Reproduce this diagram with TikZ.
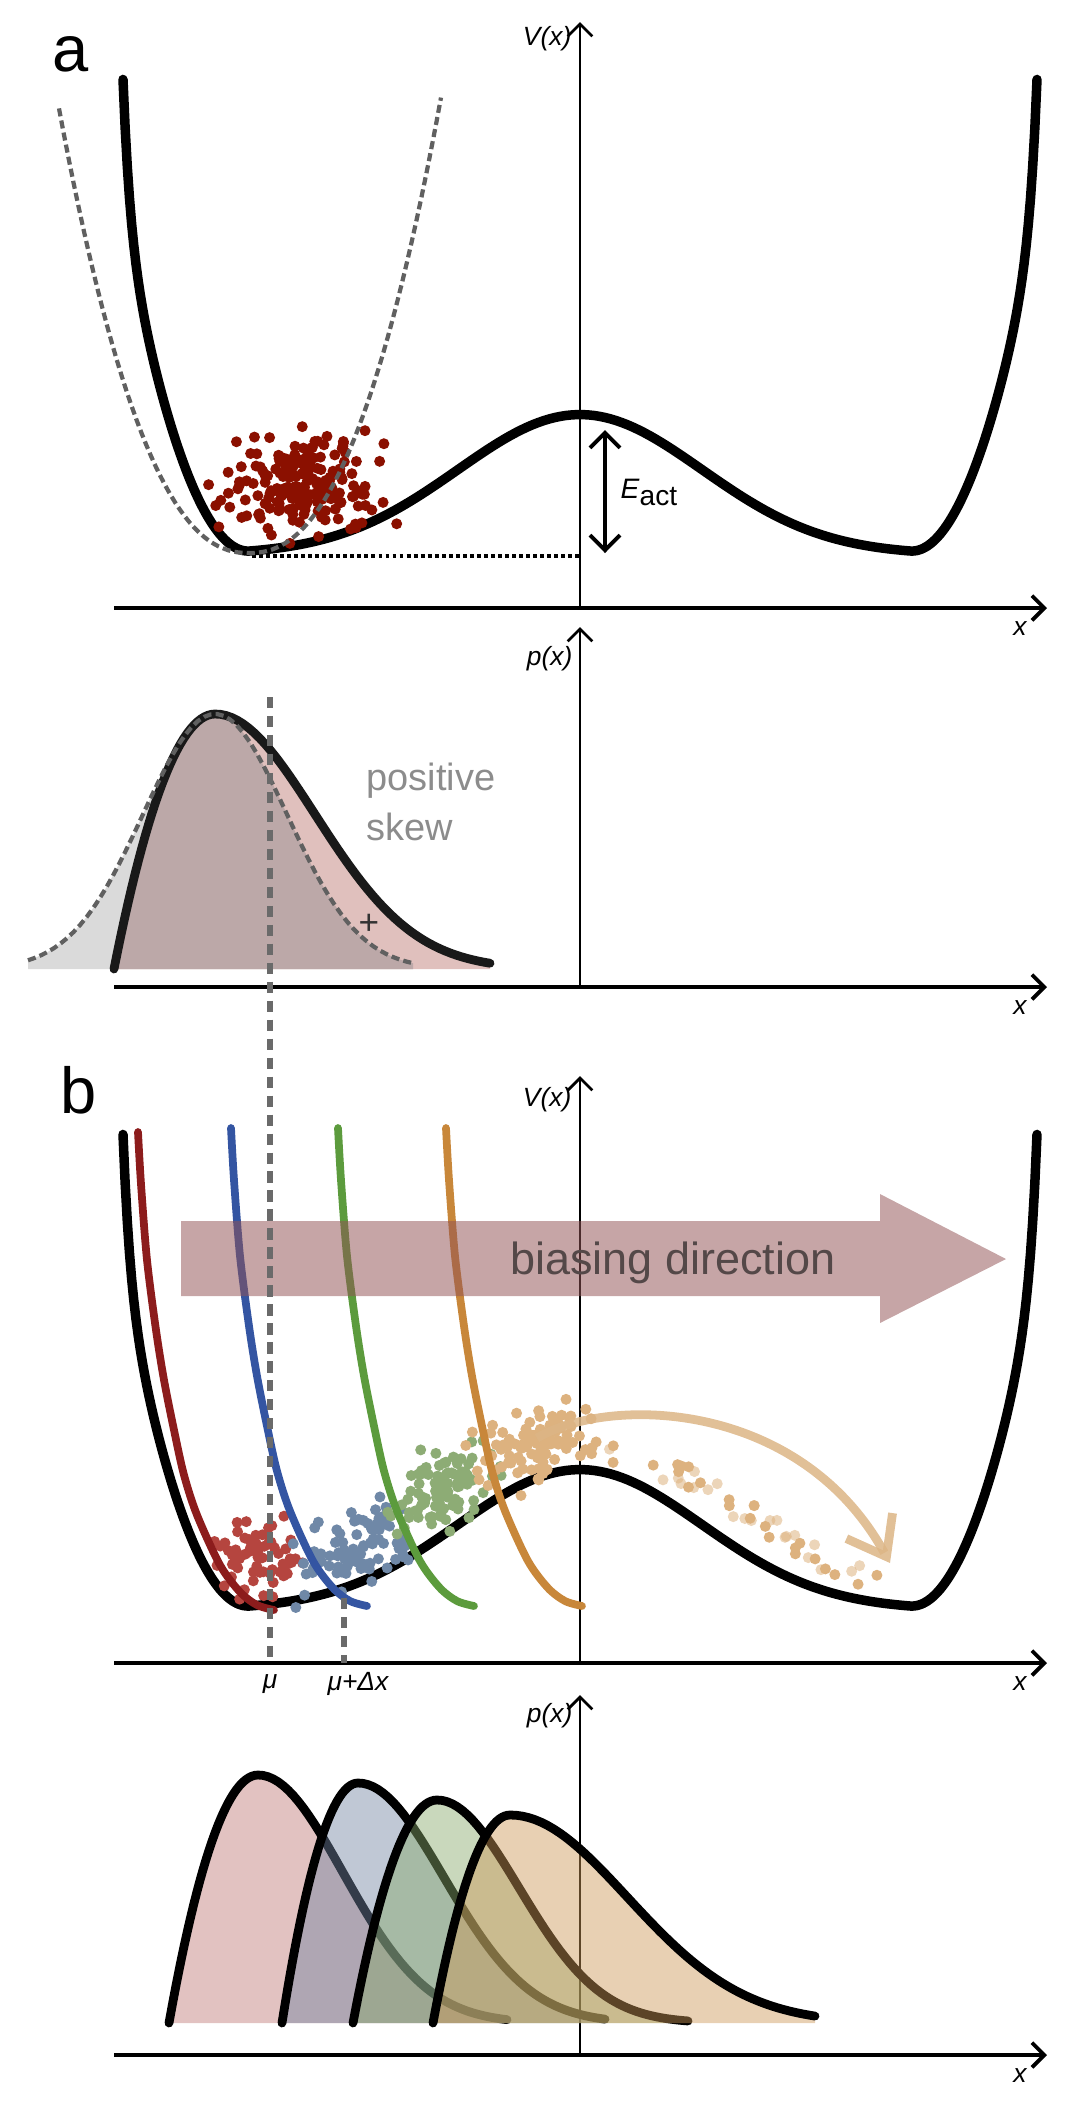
\documentclass[tikz,border=0pt]{standalone}
\usepackage{fontspec}
\setmainfont{Liberation Sans}
\usetikzlibrary{arrows.meta}

\definecolor{dotred}{HTML}{8B1000}
\definecolor{biasred}{HTML}{8C1C1C}
\definecolor{biasblue}{HTML}{3455A2}
\definecolor{biasgreen}{HTML}{5C9B3D}
\definecolor{biasorange}{HTML}{C8873A}
\definecolor{ptred}{HTML}{B5453F}
\definecolor{ptblue}{HTML}{6F88A7}
\definecolor{ptgreen}{HTML}{8DAC75}
\definecolor{pttan}{HTML}{DDB27F}
\definecolor{arctan}{HTML}{DCB585}
\definecolor{bigarrow}{RGB}{145,83,85}
\definecolor{arrowtext}{RGB}{84,72,72}
\definecolor{fillred}{RGB}{191,120,118}
\definecolor{fillblue}{RGB}{115,133,162}
\definecolor{fillgreen}{RGB}{136,169,107}
\definecolor{filltan}{RGB}{204,151,87}
\definecolor{skewpink}{RGB}{224,192,189}
\definecolor{gausgrey}{RGB}{218,218,218}
\definecolor{overlap}{RGB}{188,168,168}
\definecolor{guidegrey}{HTML}{6A6A6A}
\definecolor{harmgrey}{HTML}{606060}
\definecolor{textgrey}{HTML}{8C8C8C}

% skewed density: start, peak, end, sigma, height, base
\newcommand\skewpath[6]{%
	plot[domain=#1:#2, samples=30] (\x,{#6-#5*(1-((\x-#2)/(#2-#1))*((\x-#2)/(#2-#1)))})
	-- plot[domain=#2:#3, samples=50] (\x,{#6-#5*exp(-0.5*((\x-#2)/#4)*((\x-#2)/#4))})}
\newcommand\gausspath{plot[domain=28:413, samples=60] (\x,{969-255*exp(-0.5*((\x-215)/72)*((\x-215)/72))})}

% sample cloud: cx, cy, sx, sy, tilt, count, colour
\newcommand\cloud[7]{%
	\foreach \k in {1,...,#6}{
		\pgfmathsetmacro\du{#3*(rand+rand+rand)}
		\pgfmathsetmacro\px{#1+\du}
		\pgfmathsetmacro\py{#2+#4*(rand+rand+rand)+#5*\du}
		\fill[#7] (\px,\py) circle[radius=5.5];
	}}

\begin{document}
\begin{tikzpicture}
	[
		x=0.1mm, y=-0.1mm,
		declare function={
			wu(\t) = (\t-580)/330;
			wd(\t) = max(0,abs(wu(\t))-1);
			wellV(\t) = 554.6-140*exp(-wu(\t)*wu(\t)/0.2738)-2235*wd(\t)*wd(\t)-145*exp((wd(\t)-0.385)/0.0217);
		},
		wellline/.style = {line width=2.7pt, line cap=round, line join=round},
		biasline/.style = {line width=2.2pt, line cap=round},
		distline/.style = {line width=2.5pt, line cap=round, line join=round},
		axisline/.style = {line width=#1, -{Straight Barb[length=3.5pt,width=7pt]}},
		guide/.style = {guidegrey, line width=1.7pt, dash pattern=on 3.2pt off 2.2pt},
		harm/.style = {harmgrey, line width=1.2pt, dash pattern=on 2.3pt off 1.2pt},
		lbl/.style = {inner sep=0pt, font=\fontsize{7.5}{9}\selectfont\itshape},
		pics/well/.style = {code={\draw[wellline]
			plot[domain=123:250, samples=60] (\x,{wellV(\x)})
			-- plot[domain=250:910, samples=120] (\x,{wellV(\x)})
			-- plot[domain=910:1037, samples=60] (\x,{wellV(\x)});}},
		pics/bias/.style = {code={\draw[biasline, #1] plot[smooth] coordinates {
			(-136,-478) (-133,-426) (-127,-350) (-118,-280) (-110,-230) (-100,-180)
			(-90,-135) (-77,-95) (-54,-45) (-34,-18) (-17,-5) (0,0)};}},
	]
	\useasboundingbox (0,0) rectangle (1080,2104);
	\pgfmathsetseed{11}

	% axes
	\foreach \i/\ya/\yt in {1/608/22, 2/987/627, 3/1663/1076, 4/2055/1695}{
		\coordinate (xl\i) at (114,\ya);
		\coordinate (xr\i) at (1047,\ya);
		\coordinate (yb\i) at (580,\ya);
		\coordinate (yt\i) at (580,\yt);
		\node[lbl] (xlab\i) at (1020,\ya+21) {x};
	}
	\foreach \from/\to in {xl1/xr1,xl2/xr2,xl3/xr3,xl4/xr4}
	\draw[axisline=1.1pt] (\from) -- (\to);
	\foreach \from/\to in {yb1/yt1,yb2/yt2,yb3/yt3,yb4/yt4}
	\draw[axisline=0.8pt] (\from) -- (\to);

	\node[lbl, anchor=east] (vA) at (572,39) {V(x)};
	\node[lbl, anchor=east] (pA) at (573,659) {p(x)};
	\node[lbl, anchor=east] (vB) at (572,1100) {V(x)};
	\node[lbl, anchor=east] (pB) at (573,1716) {p(x)};

	% panel a, potential
	\pic at (0,0) {well};
	\coordinate (minA) at (252,556);
	\coordinate (barA) at (580,556);
	\draw[line width=1.1pt, dash pattern=on 1.1pt off 0.9pt] (minA) -- (barA);
	\coordinate (eTop) at (605,430);
	\coordinate (eBot) at (605,553);
	\draw[line width=1.1pt, {Straight Barb[length=4.3pt,width=8.5pt]}-{Straight Barb[length=4.3pt,width=8.5pt]}] (eTop) -- (eBot);
	\node[inner sep=0pt, anchor=base west, font=\fontsize{8}{9}\selectfont] (eAct) at (620,498) {\textit{E}\raisebox{-2pt}{act}};
	\cloud{300}{487}{36}{24}{0}{185}{dotred}
	\draw[harm] plot[domain=59:441, samples=80] (\x,{553-450*(abs(\x-249)/191)^2.3});

	% panel a, densities
	\fill[gausgrey] \gausspath -- (413,969) -- (28,969) -- cycle;
	\fill[skewpink] \skewpath{114}{215}{490}{100}{255}{969} -- (490,969) -- cycle;
	\begin{scope}
		\clip \gausspath -- (413,969) -- (28,969) -- cycle;
		\fill[overlap] \skewpath{114}{215}{490}{100}{255}{969} -- (490,969) -- cycle;
	\end{scope}
	\draw[distline, black!90] \skewpath{114}{215}{490}{100}{255}{969};
	\draw[harm] \gausspath;
	\node[inner sep=0pt, anchor=base west, textgrey, font=\fontsize{10.8}{13}\selectfont] (pos) at (366,790) {positive};
	\node[inner sep=0pt, anchor=base west, textgrey, font=\fontsize{10.8}{13}\selectfont] (skew) at (366,840) {skew};
	\node[inner sep=0pt, black!80, font=\fontsize{10}{11}\selectfont] (plus) at (369,924) {+};

	% panel b, potential and windows
	\pic at (0,1055) {well};
	\cloud{256}{1560}{22}{18}{0}{70}{ptred}
	\cloud{355}{1548}{27}{19}{-0.3}{90}{ptblue}
	\cloud{440}{1492}{28}{19}{-0.4}{90}{ptgreen}
	\cloud{534}{1447}{28}{19}{-0.1}{100}{pttan}
	\foreach \k in {1,...,45}{
		\pgfmathsetmacro\tx{600+280*rnd}
		\pgfmathsetmacro\ty{1537.5-67.5*cos((\tx-580)/330*180)-10-28*rnd}
		\pgfmathsetmacro\op{0.55+0.45*mod(\k,2)}
		\fill[pttan, opacity=\op] (\tx,\ty) circle[radius=5.5];
	}
	\pic at (274,1610) {bias=biasred};
	\pic at (367,1606) {bias=biasblue};
	\pic at (474,1606) {bias=biasgreen};
	\pic at (582,1606) {bias=biasorange};

	\coordinate (arcS) at (537,1438);
	\coordinate (arcE) at (890,1563);
	\draw[arctan, opacity=0.85, line width=2.5pt, -{Straight Barb[length=10pt,width=15pt]}] (arcS) .. controls (610,1395) and (800,1400) .. (arcE);

	\fill[bigarrow, fill opacity=0.52] (181,1221) -- (880,1221) -- (880,1194) -- (1006,1259) -- (880,1323) -- (880,1296) -- (181,1296) -- cycle;
	\node[inner sep=0pt, anchor=base, arrowtext, font=\fontsize{12.8}{14}\selectfont] (dir) at (673,1274) {biasing direction};

	% panel b, densities
	\foreach \st/\pk/\en/\sg/\hh/\col in {169/258/507/85/248/fillred, 282/358/605/86/240/fillblue, 353/437/688/82/223/fillgreen, 433/510/815/117/208/filltan}{
		\fill[\col, fill opacity=0.45] \skewpath{\st}{\pk}{\en}{\sg}{\hh}{2023} -- (\en,2023) -- cycle;
		\draw[distline] \skewpath{\st}{\pk}{\en}{\sg}{\hh}{2023};
	}

	% mean positions
	\coordinate (muT) at (270,697);
	\coordinate (muB) at (270,1663);
	\coordinate (dxT) at (344,1598);
	\coordinate (dxB) at (344,1663);
	\draw[guide] (muT) -- (muB);
	\draw[guide] (dxT) -- (dxB);
	\node[lbl] (mu) at (270,1684) {μ};
	\node[lbl] (mudx) at (358,1684) {μ+Δx};

	\node[inner sep=0pt, font=\fontsize{18.5}{20}\selectfont] (la) at (71,54) {a};
	\node[inner sep=0pt, font=\fontsize{18.5}{20}\selectfont] (lb) at (79,1090) {b};

\end{tikzpicture}
\end{document}
